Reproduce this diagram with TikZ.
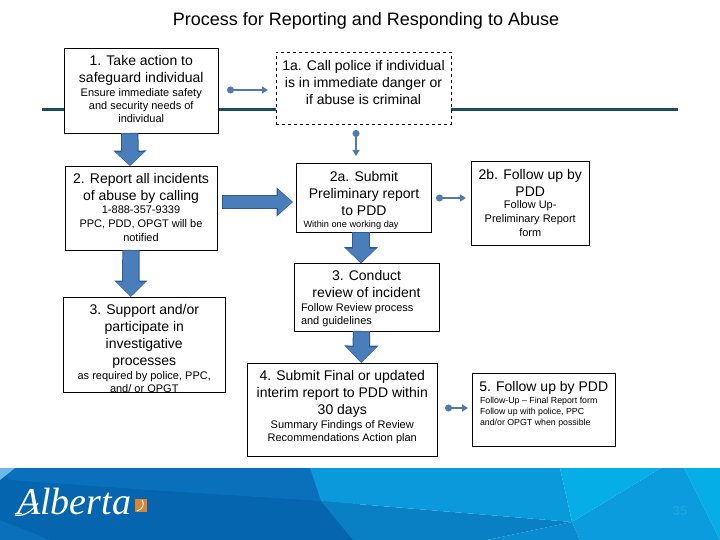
\documentclass[tikz,border=0pt]{standalone}
\usepackage{fontspec}
\setmainfont{Liberation Sans}
\newfontfamily\logofont{Liberation Serif}
\usetikzlibrary{arrows.meta,calc}
\definecolor{blk}{HTML}{4A7EBB}
\definecolor{blkdark}{HTML}{2C5A91}
\definecolor{conn}{HTML}{4F7BAE}
\definecolor{rulec}{HTML}{1B4C63}
\definecolor{bandA}{HTML}{0565AE}
\definecolor{bandB}{HTML}{0A70BC}
\definecolor{bandC}{HTML}{0A9ADB}
\definecolor{bandD}{HTML}{0A80C4}
\definecolor{bandE}{HTML}{0A8AD0}
\definecolor{bandF}{HTML}{05AEE6}
\definecolor{bandG}{HTML}{0A9CDC}
\definecolor{bandH}{HTML}{6CB8E6}
\definecolor{logoor}{HTML}{E18232}
\definecolor{pgc}{HTML}{1CA5DC}
\newcommand{\bigt}{\fontsize{14}{17}\selectfont}
\newcommand{\smlt}{\fontsize{11}{13}\selectfont}
\newcommand{\smlw}{\fontsize{11}{14}\selectfont}
\newcommand{\tint}{\fontsize{9.2}{11}\selectfont}
\newcommand{\flowbox}[8][]{%
  \node[boxstyle,#1,minimum width={(#4-#2)*1pt},minimum height={(#5-#3)*1pt},anchor=north west] (#6) at (#2,#3)
  {\begin{minipage}[t][\dimexpr#5pt-#3pt\relax][t]{\dimexpr#4pt-#2pt\relax}\centering\vspace*{#7pt}#8\end{minipage}};}
\newcommand{\blockarrow}[5]{%
  \draw[line width=#3pt+1.4pt,draw=blkdark,-{Triangle[length=#5pt+1.4pt,width=#4pt+2pt]}] #1 -- #2;
  \draw[line width=#3pt-0.6pt,draw=blk,-{Triangle[length=#5pt-1pt,width=#4pt-2.4pt]},shorten >=0.8pt,shorten <=0.6pt] #1 -- #2;}
\tikzset{
  boxstyle/.style={draw=black,line width=0.8pt,fill=white,inner sep=0pt,outer sep=0pt,font=\bigt},
  dotarrow/.style={draw=conn,line width=1.5pt,{Circle[length=7pt,width=7pt]}-{Triangle[length=6pt,width=7pt]}},
  rulestyle/.style={draw=rulec,line width=3pt}
}
\begin{document}
\begin{tikzpicture}[x=1pt,y=-1pt]
\useasboundingbox (0,0) rectangle (720,540);
\fill[white] (0,0) rectangle (720,540);
% footer band
\fill[bandA] (0,468) rectangle (353,540);
\fill[bandB] (0,468) -- (310,468) -- (321,501) -- (150,490) -- (10,480) -- cycle;
\fill[bandB] (0,520) -- (50,540) -- (0,540) -- cycle;
\fill[bandH] (0,468) -- (15,468) -- (0,480) -- cycle;
\fill[bandD] (321,501) -- (572,522) -- (487,540) -- (353,540) -- cycle;
\fill[bandC] (310,468) -- (560,468) -- (572,522) -- (321,501) -- cycle;
\fill[bandE] (572,522) -- (580,540) -- (487,540) -- cycle;
\fill[bandG] (661,468) -- (684,468) -- (720,540) -- (580,540) -- (572,522) -- cycle;
\fill[bandF] (560,468) -- (661,468) -- (572,522) -- cycle;
\fill[bandF] (684,468) -- (720,468) -- (720,540) -- cycle;
% title
\node[font=\fontsize{18}{21}\selectfont] (title) at (366,21) {Process for Reporting and Responding to Abuse};
% horizontal rule
\coordinate (ruleL) at (42,110);
\coordinate (ruleR) at (678,110);
\draw[rulestyle] (ruleL) -- (ruleR);
% boxes
\flowbox{64}{48}{218.5}{133}{n1}{7}{{\bigt 1. Take action to\\ safeguard individual\par}\vspace{1pt}{\smlt Ensure immediate safety\\ and security needs of\\ individual\par}}
\flowbox[dashed]{276}{52}{451}{124}{n1a}{8}{{\bigt 1a. Call police if individual\\ is in immediate danger or\\ if abuse is criminal\par}}
\flowbox{65}{166}{217}{250}{n2}{7}{{\bigt 2. Report all incidents\\ of abuse  by calling\par}\vspace{-1pt}{\smlw 1-888-357-9339\\ PPC, PDD, OPGT will be\\ notified\par}}
\flowbox{296.5}{163}{431.5}{232}{n2a}{8}{{\bigt 2a. Submit\\ Preliminary report\\ to PDD\par}{\tint\raggedright\leftskip=7pt\vspace{1pt}Within one working day\par}}
\flowbox{471}{161}{589.5}{245}{n2b}{8}{{\bigt 2b. Follow up by\\ PDD\par}\vspace{-2pt}{\smlw Follow Up-\\ Preliminary Report\\ form\par}}
\flowbox{63.5}{297}{225}{392.5}{n3}{7}{{\bigt 3. Support and/or\\ participate in\\ investigative\\ processes\par}\vspace{1pt}{\smlt as required by police, PPC,\\ and/ or OPGT\par}}
\flowbox{294}{263.5}{439}{331}{n3c}{7}{{\bigt 3. Conduct\\ review of incident\par}\vspace{1pt}{\smlt\raggedright\leftskip=7pt Follow Review process\\ and guidelines\par}}
\flowbox{247.5}{363}{437}{456}{n4}{7}{{\bigt 4. Submit Final or updated\\ interim report to PDD within\\ 30 days\par}\vspace{1pt}{\smlt Summary Findings of Review\\ Recommendations Action plan\par}}
\flowbox{472}{373}{615.5}{446}{n5}{8}{{\bigt 5. Follow up by PDD\par}\vspace{1pt}{\fontsize{8.8}{11}\selectfont\raggedright\leftskip=8pt Follow-Up – Final Report form\\ Follow up with police, PPC\\ and/or OPGT when possible\par}}
% block arrows
\blockarrow{([xshift=-11.5pt]n1.south)}{([xshift=-11pt]n2.north)}{16}{30}{14}
\blockarrow{([xshift=-10pt]n2.south)}{([xshift=-13.5pt]n3.north)}{16}{30}{15}
\blockarrow{([xshift=5pt,yshift=6pt]n2.east)}{([xshift=-3.5pt,yshift=-4.5pt]n2a.west)}{12}{26}{15}
\blockarrow{([xshift=-3pt]n2a.south)}{([xshift=-5.5pt]n3c.north)}{16}{31}{15}
\blockarrow{([xshift=-5pt]n3c.south)}{([xshift=19pt]n4.north)}{16}{31}{16}
% dot connectors
\coordinate (d1) at (227,90); \coordinate (d1e) at (268,90);
\draw[dotarrow] (d1) -- (d1e);
\coordinate (d2) at (356,130); \coordinate (d2e) at (356,156);
\draw[dotarrow] (d2) -- (d2e);
\coordinate (d3) at (436,198); \coordinate (d3e) at (466,198);
\draw[dotarrow] (d3) -- (d3e);
\coordinate (d4) at (445,408); \coordinate (d4e) at (468,408);
\draw[dotarrow] (d4) -- (d4e);
% logo
\node[text=white,font=\logofont\itshape\fontsize{38}{38}\selectfont,anchor=base west,inner sep=0pt] (logo) at (17,514) {Alberta};
\draw[white,line width=1.2pt] (15,515) .. controls (24,517) and (32,511) .. (38,503);
\fill[logoor] (135,499) rectangle (147,512);
\draw[white,line width=1pt] (142,500) .. controls (145,504) and (143,509) .. (137,511);
% page number
\node[text=pgc,font=\bfseries\fontsize{13}{15}\selectfont] (pg) at (680,511) {35};
\end{tikzpicture}
\end{document}
